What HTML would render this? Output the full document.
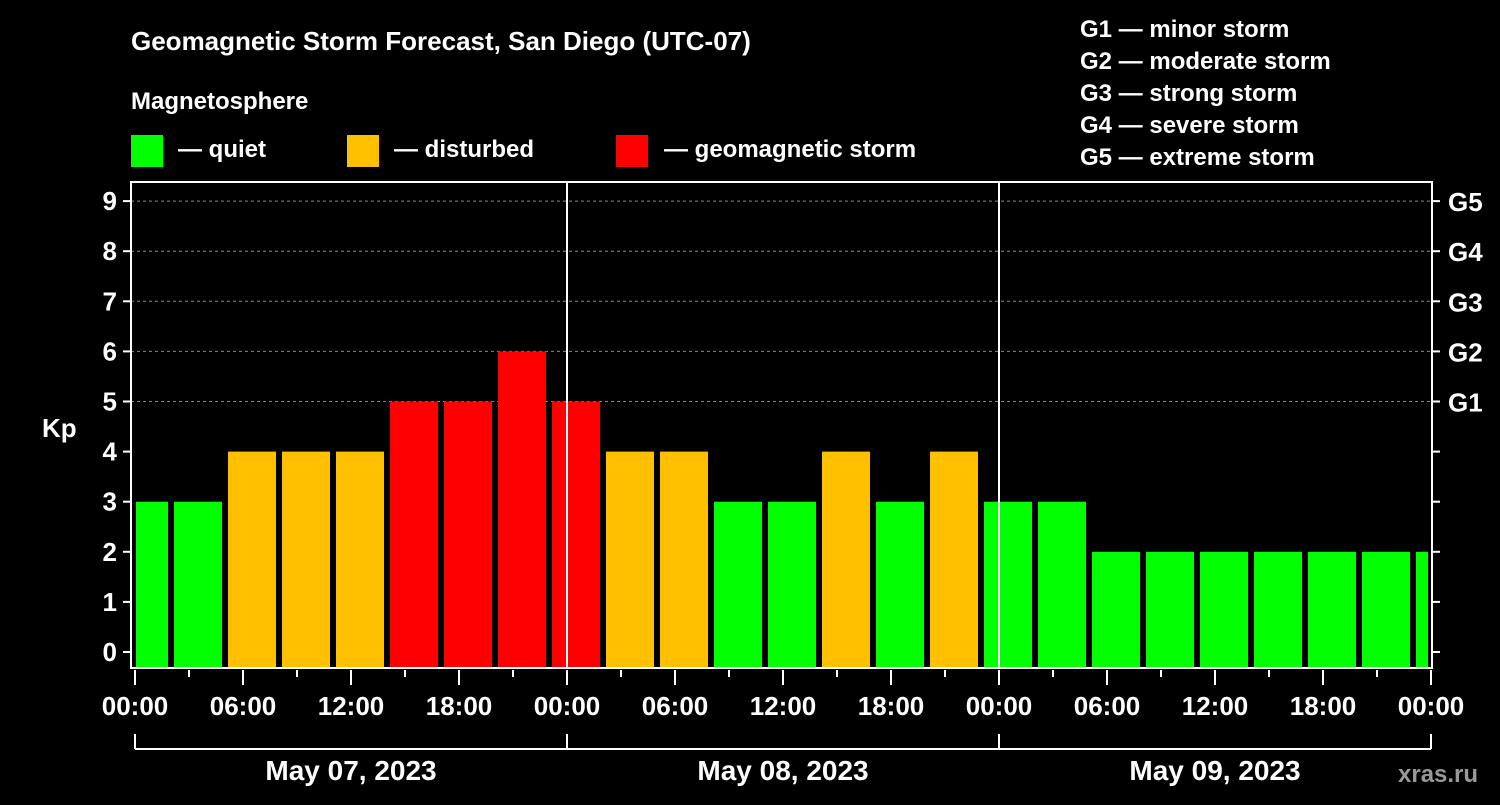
<!DOCTYPE html>
<html><head><meta charset="utf-8"><style>
body{margin:0;background:#000;width:1500px;height:800px;overflow:hidden}
svg text{font-family:"Liberation Sans",sans-serif;font-weight:bold;fill:#fff}
</style></head><body>
<svg id="c" width="1500" height="800">
<text x="131" y="50" font-size="26">Geomagnetic Storm Forecast, San Diego (UTC-07)</text>
<text x="131" y="109" font-size="24">Magnetosphere</text>
<g><rect x="131" y="135" width="32" height="32" fill="#00ff00"/><text x="178" y="157" font-size="24">— quiet</text></g>
<g><rect x="347" y="135" width="32" height="32" fill="#ffc000"/><text x="394" y="157" font-size="24">— disturbed</text></g>
<g><rect x="616" y="135" width="32" height="32" fill="#ff0000"/><text x="664" y="157" font-size="24">— geomagnetic storm</text></g>
<g font-size="24">
<text x="1080" y="37">G1 — minor storm</text><text x="1080" y="69">G2 — moderate storm</text><text x="1080" y="101">G3 — strong storm</text><text x="1080" y="133">G4 — severe storm</text><text x="1080" y="165">G5 — extreme storm</text></g>
<text x="42" y="437" font-size="26">Kp</text>
<text x="1398" y="782" font-size="24" fill="#888" style="fill:#999">xras.ru</text>
<g id="grid"></g><g id="bars"></g><g id="axes"></g>
</svg>
<script>
const kpValues=[3,3,4,4,4,5,5,6,5,4,4,3,3,4,3,4,3,3,2,2,2,2,2,2,2];
const hourTicks=["00:00","06:00","12:00","18:00","00:00","06:00","12:00","18:00","00:00","06:00","12:00","18:00","00:00"];
const dayLabels=["May 07, 2023","May 08, 2023","May 09, 2023"];
const gLabels=["G1","G2","G3","G4","G5"];
const NS="http://www.w3.org/2000/svg";
const X0=135,PX_H=18,L=131,R=1432,T=182,B=668;
const x=h=>X0+h*PX_H, y=v=>652-v*50.1;
function mk(t,a,p){const e=document.createElementNS(NS,t);for(const k in a)e.setAttribute(k,a[k]);p.appendChild(e);return e;}
const grid=document.getElementById('grid'),bars=document.getElementById('bars'),axes=document.getElementById('axes');
for(let v=5;v<=9;v++){const l=mk('line',{x1:L,x2:R,y1:y(v),y2:y(v),stroke:'#888','stroke-dasharray':'3,3','stroke-width':1},grid);

}
kpValues.forEach((v,i)=>{const h0=-1+i*3;let x1=x(h0)+3,x2=x(h0+3)-3;x1=Math.max(x1,L+5);x2=Math.min(x2,R-4);
const col=v>=5?'#ff0000':v==4?'#ffc000':'#00ff00';
const r=mk('rect',{x:x1,y:y(v),width:x2-x1,height:B-y(v),fill:col},bars);

});
mk('rect',{x:L,y:T,width:R-L,height:B-T,fill:'none',stroke:'#fff','stroke-width':2},axes);
[24,48].forEach(h=>{mk('line',{x1:x(h),x2:x(h),y1:T,y2:B,stroke:'#fff','stroke-width':2},axes);});
for(let v=0;v<=9;v++){mk('line',{x1:L-8,x2:L,y1:y(v),y2:y(v),stroke:'#fff','stroke-width':2},axes);
mk('line',{x1:R,x2:R+8,y1:y(v),y2:y(v),stroke:'#fff','stroke-width':2},axes);
const t=mk('text',{x:L-14,y:y(v)+9,'font-size':26,'text-anchor':'end'},axes);t.textContent=v;

}
gLabels.forEach((g,i)=>{const t=mk('text',{x:R+16,y:y(i+5)+10,'font-size':26},axes);t.textContent=g;

});
for(let h=0;h<=72;h+=3){const maj=h%6==0;mk('line',{x1:x(h),x2:x(h),y1:B+2,y2:B+(maj?17:9),stroke:'#fff','stroke-width':2},axes);}
hourTicks.forEach((s,i)=>{const t=mk('text',{x:x(i*6),y:715,'font-size':26,'text-anchor':'middle'},axes);t.textContent=s;

});
mk('line',{x1:x(0),x2:x(72),y1:749,y2:749,stroke:'#fff','stroke-width':2},axes);
[0,24,48,72].forEach(h=>mk('line',{x1:x(h),x2:x(h),y1:734,y2:749,stroke:'#fff','stroke-width':2},axes));
dayLabels.forEach((d,i)=>{const t=mk('text',{x:x(i*24+12),y:780,'font-size':28,'text-anchor':'middle'},axes);t.textContent=d;

});
</script>
</body></html>
